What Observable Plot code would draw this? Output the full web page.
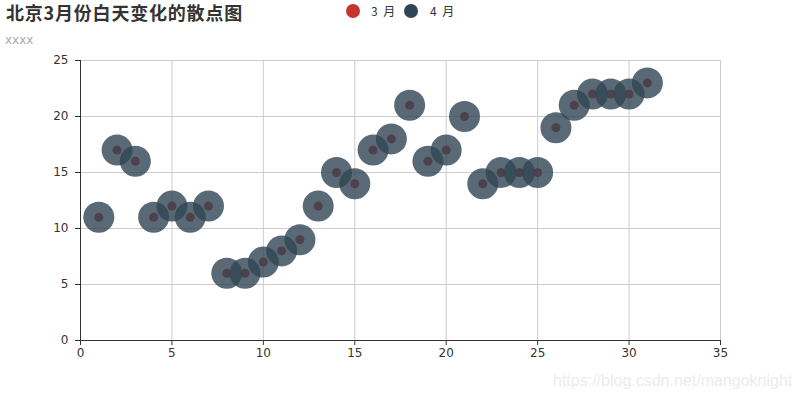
<!DOCTYPE html>
<html>
<head>
<meta charset="utf-8">
<script src="https://cdn.jsdelivr.net/npm/d3@7"></script>
<script src="https://cdn.jsdelivr.net/npm/@observablehq/plot@0.6"></script>
<style>
  html, body { margin: 0; padding: 0; background: #fff; }
  #wrap { position: relative; width: 800px; height: 400px; overflow: hidden; font-family: "DejaVu Sans", "Noto Sans CJK SC", sans-serif; }
  #title { position: absolute; left: 6px; top: 1px; font-size: 18px; letter-spacing: 0.8px; font-weight: bold; color: #333; font-family: "Noto Sans CJK SC", sans-serif; line-height: 22px; }
  #sub { position: absolute; left: 5px; top: 33px; font-size: 12px; color: #aaa; line-height: 14px; }
  .sw { position: absolute; top: 4px; width: 14px; height: 14px; border-radius: 7px; }
  .lt { position: absolute; top: 2px; font-size: 12px; line-height: 18px; color: #333; letter-spacing: 1.5px; font-family: "Noto Sans CJK SC", sans-serif; }
  #wm { position: absolute; left: 553px; top: 372px; font-size: 16px; color: #ececec; font-family: "Liberation Sans", Arial, sans-serif; }
  #chart { position: absolute; left: 0; top: 0; }
</style>
</head>
<body>
<div id="wrap">
  <div id="chart"></div>
  <div id="title">北京3月份白天变化的散点图</div>
  <div id="sub">xxxx</div>
  <span class="sw" style="left:346px; background:#c23531"></span><span class="lt" style="left:371px">3 月</span>
  <span class="sw" style="left:404px; background:#2f4554"></span><span class="lt" style="left:430px">4 月</span>
  <div id="wm">https://blog.csdn.net/mangoknight</div>
</div>
<script>
const days = [1,2,3,4,5,6,7,8,9,10,11,12,13,14,15,16,17,18,19,20,21,22,23,24,25,26,27,28,29,30,31];
const march = [11,17,16,11,12,11,12,6,6,7,8,9,12,15,14,17,18,21,16,17,20,14,15,15,15,19,21,22,22,22,23];
const april = [11,17,16,11,12,11,12,6,6,7,8,9,12,15,14,17,18,21,16,17,20,14,15,15,15,19,21,22,22,22,23];
const xTicks = [0,5,10,15,20,25,30,35];
const yTicks = [0,5,10,15,20,25];

const dMarch = days.map((d, i) => ({day: d, v: march[i]}));
const dApril = days.map((d, i) => ({day: d, v: april[i]}));

const chart = Plot.plot({
  width: 800,
  height: 400,
  marginLeft: 80,
  marginRight: 80,
  marginTop: 60,
  marginBottom: 60,
  style: {fontFamily: "DejaVu Sans, sans-serif", fontSize: "12px", color: "#333", background: "transparent"},
  x: {domain: [0, 35]},
  y: {domain: [0, 25]},
  marks: [
    Plot.gridX(xTicks, {stroke: "#ccc", strokeOpacity: 1}),
    Plot.gridY(yTicks, {stroke: "#ccc", strokeOpacity: 1}),
    Plot.axisX(xTicks, {tickSize: 5, tickPadding: 3, stroke: "#333", fill: "#333", fontSize: 12, label: null}),
    Plot.axisY(yTicks, {tickSize: 5, tickPadding: 7, stroke: "#333", fill: "#333", fontSize: 12, label: null}),
    Plot.ruleY([0], {stroke: "#333"}),
    Plot.ruleX([0], {stroke: "#333"}),
    Plot.dot(dMarch, {x: "day", y: "v", r: 4.5, fill: "#c23531", stroke: null}),
    Plot.dot(dApril, {x: "day", y: "v", r: 15.5, fill: "#2f4554", fillOpacity: 0.8, stroke: null})
  ]
});
document.getElementById("chart").appendChild(chart);
</script>
</body>
</html>
